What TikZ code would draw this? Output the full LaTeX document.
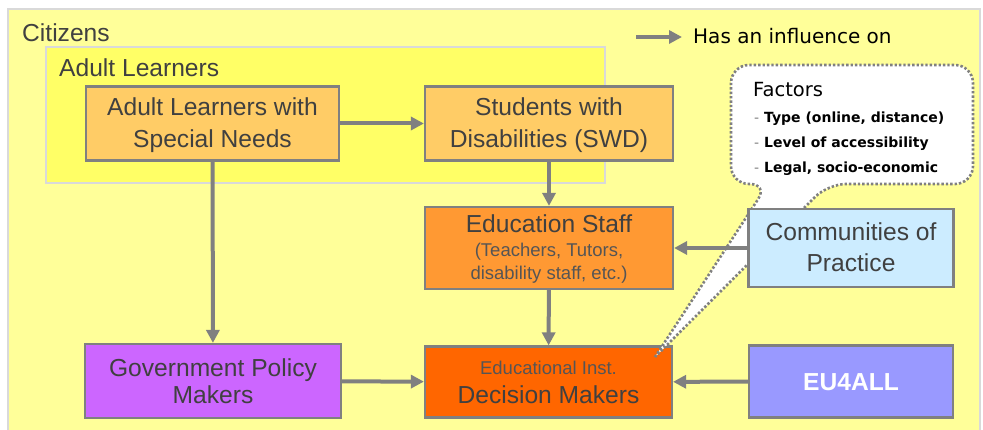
\documentclass[tikz,border=0pt]{standalone}
\usepackage{fontspec}
\setmainfont{Liberation Sans}
\newfontfamily\dejavu{DejaVu Sans}
\usetikzlibrary{arrows.meta}
\definecolor{outerfill}{HTML}{FFFF99}
\definecolor{innerfill}{HTML}{FFFF66}
\definecolor{framegray}{HTML}{D9D9D9}
\definecolor{boxline}{HTML}{808080}
\definecolor{txt}{HTML}{404040}
\definecolor{subtxt}{HTML}{555555}
\definecolor{lightorange}{HTML}{FFCC66}
\definecolor{midorange}{HTML}{FF9933}
\definecolor{darkorange}{HTML}{FF6600}
\definecolor{govfill}{HTML}{CC66FF}
\definecolor{copfill}{HTML}{CCECFF}
\definecolor{eufill}{HTML}{9999FF}
\newcommand\tstrutL{\rule{0pt}{25pt}}
\newcommand\tstrutS{\rule{0pt}{21pt}}
\newcommand\bstrut{\rule[-8pt]{0pt}{8pt}}
\newcommand\subf{\fontsize{18.5}{22}\selectfont\color{subtxt}}
\begin{document}
\begin{tikzpicture}[x=1pt,y=-1pt,
  box/.style={draw=boxline, line width=2.2pt, text=txt, align=center, inner sep=0pt,
    font=\fontsize{24.6}{32}\selectfont},
  flow/.style={draw=boxline, line width=4pt, -{Triangle[length=13pt,width=13pt]}},
  grp/.style={draw=framegray, line width=2.5pt},
  header/.style={text=txt, anchor=base west, inner sep=0pt, font=\fontsize{24.6}{28}\selectfont},
  bubbletxt/.style={anchor=base west, inner sep=0pt, text=black},
  factor/.style={bubbletxt, font=\dejavu\bfseries\fontsize{14}{16}\selectfont}
]
\useasboundingbox (0,0) rectangle (983,430);
\clip (0,0) rectangle (983,430);
\fill[white] (0,0) rectangle (983,430);
% group frames
\draw[grp, fill=outerfill] (8,9) rectangle (980,450);
\node[header] (citizens) at (22,41.5) {Citizens};
\draw[grp, fill=innerfill] (46,47) rectangle (605,183);
\node[header] (adult) at (59,77) {Adult Learners};
% boxes
\node[box, fill=lightorange, minimum width=253pt, minimum height=74pt] (alsn) at (212.5,123.5)
  {\tstrutL Adult Learners with\\Special Needs\bstrut};
\node[box, fill=lightorange, minimum width=248pt, minimum height=74pt] (swd) at (549,123.5)
  {\tstrutL Students with\\Disabilities (SWD)\bstrut};
\node[box, fill=govfill, minimum width=256pt, minimum height=74pt] (gov) at (213,381)
  {\tstrutL Government Policy\\[-5pt]Makers\bstrut};
\node[box, fill=midorange, minimum width=248pt, minimum height=82pt] (es) at (549,248)
  {\tstrutL Education Staff\\[-8pt]{\subf (Teachers, Tutors,}\\[-9pt]{\subf disability staff, etc.)}\bstrut};
\node[box, fill=darkorange, minimum width=247pt, minimum height=71pt] (dm) at (548.5,382)
  {\tstrutS{\subf Educational Inst.}\\[-3pt]Decision Makers\bstrut};
% arrows among left/middle boxes
\draw[flow] (alsn) -- (swd);
\draw[flow] (alsn) -- (gov);
\draw[flow] (swd) -- (es);
\draw[flow] (es) -- (dm);
\draw[flow] (gov) -- (dm);
% callout bubble
\path[fill=white, draw=boxline, line width=2.6pt, dash pattern=on 2.4pt off 2pt]
  (655,357) [rounded corners=18pt] -- (768,184) -- (731,184) -- (731,65) -- (973,65)
  -- (973,184) -- (828,184) -- (655,357);
\node[bubbletxt, font=\dejavu\fontsize{19.5}{22}\selectfont] (factors) at (753,96.7) {Factors};
\node[factor] (f1) at (754,122.3) {{\mdseries\color{boxline}-} Type (online, distance)};
\node[factor] (f2) at (754,147.7) {{\mdseries\color{boxline}-} Level of accessibility};
\node[factor] (f3) at (754,173) {{\mdseries\color{boxline}-} Legal, socio-economic};
% right boxes
\node[box, fill=copfill, minimum width=205pt, minimum height=78pt] (cop) at (851,248)
  {\tstrutL Communities of\\[-1pt]Practice\bstrut};
\node[box, fill=eufill, minimum width=204pt, minimum height=72pt, text=white,
  font=\bfseries\fontsize{24.6}{32}\selectfont] (eu) at (851,381.5)
  {\tstrutL EU4ALL\bstrut};
\draw[flow] (cop) -- (es);
\draw[flow] (eu) -- (dm);
% legend
\coordinate (lgA) at (636,37);
\coordinate (lgB) at (682,37);
\draw[flow] (lgA) -- (lgB);
\node[bubbletxt, font=\dejavu\fontsize{20}{24}\selectfont] (legend) at (693,43.3) {Has an influence on};
\end{tikzpicture}
\end{document}
